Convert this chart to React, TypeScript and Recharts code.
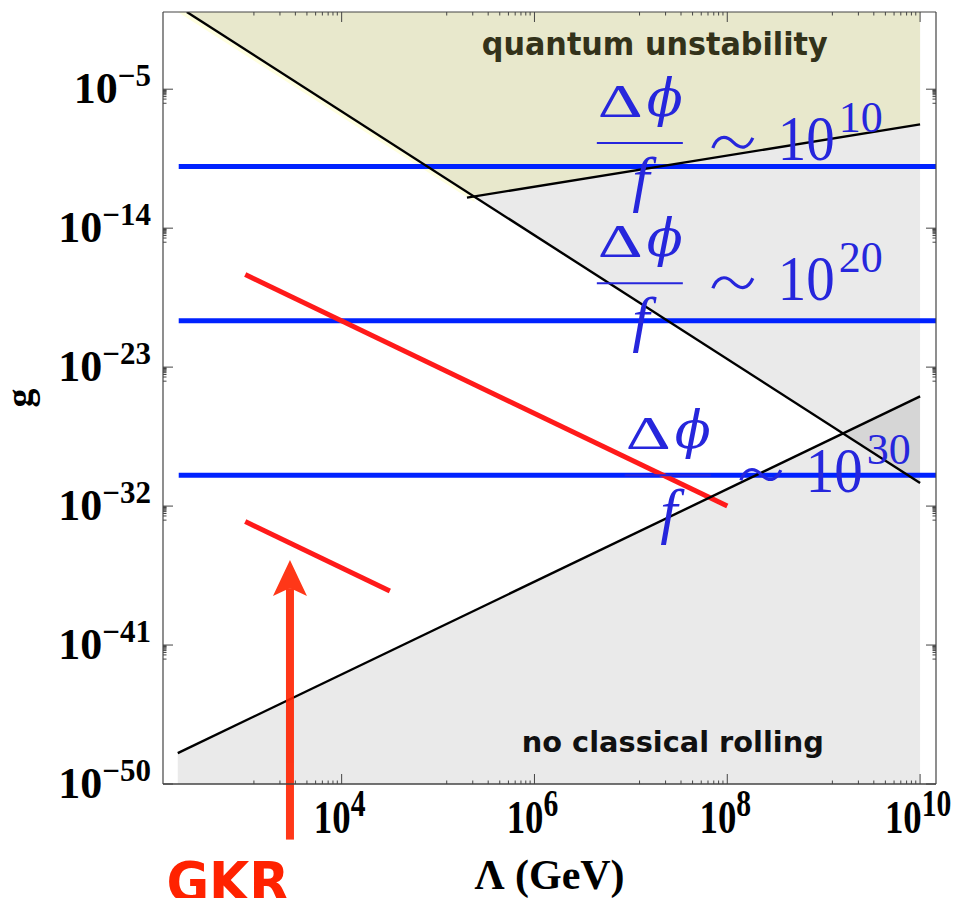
import { Area, ComposedChart, Line, ReferenceDot, ReferenceLine, XAxis, YAxis } from "recharts";

const FRAME = "#444444";
const SERIF = "'Liberation Serif', 'Times New Roman', serif";
const MATH = "'DejaVu Serif', serif";
const ROUND = "'DejaVu Sans', sans-serif";
const MATH_BLUE = "#2626dc";

// both axes run on log10 values: x = log10(Λ / GeV), y = log10(g)
const X_DOMAIN: [number, number] = [2.147, 10.165];
const Y_DOMAIN: [number, number] = [-50, 0];
const X_MAJOR = [4, 6, 8, 10];
const Y_MAJOR = [-5, -14, -23, -32, -41, -50];
// minor ticks: a log-spaced decade packed just below each major tick
const MINOR_STEPS = [-0.91, -0.64, -0.48, -0.36, -0.27, -0.2, -0.14, -0.09, -0.045];

// boundary lines
const QUANTUM_EDGE = [{ x: 2.394, y: 0 }, { x: 10, y: -30.5 }]; // g ∝ Λ^-4
const SLOPE_ONE_EDGE = [{ x: 5.3, y: -12.02 }, { x: 10, y: -7.28 }]; // g ∝ Λ
const ROLLING_EDGE = [{ x: 2.3, y: -48.0 }, { x: 10, y: -24.9 }]; // g ∝ Λ^3
const UNSTABLE_FLOOR = [{ x: 2.394, y: 0 }, { x: 5.378, y: -11.96 }, { x: 10, y: -7.28 }];
const HALO_FLOOR = [{ x: 2.3, y: 0 }, { x: 5.378, y: -12.3 }];

// Δφ/f ~ 10^n contours
const RATIO_POWERS = ["10", "20", "30"];
const RATIO_G = [-10, -20, -30];
const RATIO_SPAN = [2.31, 10.165];
const RATIO_LABEL_X = [6.647, 6.647, 6.937];
const RATIO_LABEL_G = [-8.48, -17.57, -30];

// GKR segments
const GKR_UPPER = [{ x: 3, y: -17 }, { x: 8, y: -32 }];
const GKR_LOWER = [{ x: 3, y: -33 }, { x: 4.5, y: -37.5 }];
const GKR_ARROW = [{ x: 3.464, y: -53.6 }, { x: 3.464, y: -35.5 }];

const withTicks = (majors: number[], lo: number, hi: number) =>
  majors
    .flatMap((m) => [m, ...MINOR_STEPS.map((s) => m + s)])
    .filter((v) => v >= lo && v <= hi)
    .sort((a, b) => a - b);

const X_TICKS = withTicks(X_MAJOR, X_DOMAIN[0], X_DOMAIN[1]);
const Y_TICKS = withTicks(Y_MAJOR, Y_DOMAIN[0], Y_DOMAIN[1]);

const unstableBand = QUANTUM_EDGE.map((p) => ({ x: p.x, band: [p.y, 0] }));
const rollingBand = ROLLING_EDGE.map((p) => ({ x: p.x, band: [Y_DOMAIN[0], p.y] }));
const quantumBand = UNSTABLE_FLOOR.map((p) => ({ x: p.x, band: [p.y, 0] }));
const haloBand = HALO_FLOOR.map((p) => ({ x: p.x, band: [p.y, 0] }));

function BottomTick({ x, y, payload }: any) {
  const v = payload.value as number;
  const major = X_MAJOR.includes(v);
  return (
    <g>
      <line x1={x} x2={x} y1={y} y2={y - (major ? 10 : 3.5)} stroke={FRAME} strokeWidth={1} />
      {major && (
        <g transform={`translate(${x - 2},${y + 49}) scale(0.8,1)`}>
          <text textAnchor="middle" fontFamily={SERIF} fontWeight="bold" fontSize={46} fill="#000">
            10
            <tspan fontSize={37} dy={-17}>
              {v}
            </tspan>
          </text>
        </g>
      )}
    </g>
  );
}

function TopTick({ x, y, payload }: any) {
  const major = X_MAJOR.includes(payload.value);
  return <line x1={x} x2={x} y1={y} y2={y + (major ? 10 : 3.5)} stroke={FRAME} strokeWidth={1} />;
}

function LeftTick({ x, y, payload }: any) {
  const v = payload.value as number;
  const major = Y_MAJOR.includes(v);
  return (
    <g>
      <line x1={x} x2={x + (major ? 10 : 3.5)} y1={y} y2={y} stroke={FRAME} strokeWidth={1} />
      {major && (
        <text x={x - 12} y={y + 14} textAnchor="end" fontFamily={SERIF} fontWeight="bold" fontSize={44} fill="#000">
          10
          <tspan fontSize={31} dy={-17}>
            {`\u2212${-v}`}
          </tspan>
        </text>
      )}
    </g>
  );
}

function RightTick({ x, y, payload }: any) {
  const major = Y_MAJOR.includes(payload.value);
  return <line x1={x} x2={x - (major ? 10 : 3.5)} y1={y} y2={y} stroke={FRAME} strokeWidth={1} />;
}

// Δφ/f ~ 10^n, anchored at the left end of the fraction bar
function RatioLabel({ cx, cy, power }: { cx: number; cy: number; power: string }) {
  return (
    <g transform={`translate(${cx},${cy})`} fill={MATH_BLUE}>
      <text x={1} y={-26} fontFamily={SERIF} fontSize={47} textLength={45} lengthAdjust="spacingAndGlyphs">
        Δ
      </text>
      <text x={50} y={-27} fontFamily={MATH} fontStyle="italic" fontSize={52} textLength={36} lengthAdjust="spacingAndGlyphs">
        ϕ
      </text>
      <line x1={0} x2={86} y1={0} y2={0} stroke={MATH_BLUE} strokeWidth={2} />
      <text x={44} y={57} textAnchor="middle" fontFamily={SERIF} fontStyle="italic" fontSize={62}>
        f
      </text>
      <path d="M116,5 C120,-6 128,-9 136,-1 C144,7 151,6 156,-5" fill="none" stroke={MATH_BLUE} strokeWidth={3.2} />
      <text x={181} y={17} fontFamily={SERIF} fontSize={64} textLength={57} lengthAdjust="spacingAndGlyphs">
        10
      </text>
      <text x={242} y={-11} fontFamily={SERIF} fontSize={44} textLength={44} lengthAdjust="spacingAndGlyphs">
        {power}
      </text>
    </g>
  );
}

function RegionLabel({ cx, cy, text, color, size, span }: any) {
  return (
    <text
      x={cx}
      y={cy}
      textAnchor="middle"
      fontFamily={ROUND}
      fontWeight="bold"
      fontSize={size}
      fill={color}
      textLength={span}
      lengthAdjust="spacingAndGlyphs"
    >
      {text}
    </text>
  );
}

function Arrow({ x1, y1, x2, y2 }: any) {
  // shaft from (x1,y1) up to the head whose tip sits at (x2,y2)
  return (
    <g fill="#ff2200" opacity={0.9}>
      <rect x={x1 - 4} y={y2 + 28} width={8} height={y1 - y2 - 28} />
      <polygon points={`${x2},${y2} ${x2 + 17},${y2 + 36} ${x2},${y2 + 28} ${x2 - 17},${y2 + 36}`} />
    </g>
  );
}

export default function App() {
  return (
    <div style={{ position: "absolute", left: 0, top: 0, background: "#fff" }}>
      <ComposedChart width={958} height={898} margin={{ top: 10, right: 20, bottom: 0, left: 0 }}>
        <XAxis
          dataKey="x"
          type="number"
          domain={X_DOMAIN}
          allowDataOverflow
          ticks={X_TICKS}
          interval={0}
          tickLine={false}
          tickSize={0}
          tickMargin={0}
          tick={BottomTick}
          height={114}
          axisLine={{ stroke: FRAME, strokeWidth: 1.5 }}
          label={{
            content: ({ viewBox }: any) => (
              <text
                x={viewBox.x + viewBox.width / 2}
                y={viewBox.y + 105}
                textAnchor="middle"
                fontFamily={SERIF}
                fontWeight="bold"
                fontSize={42}
                fill="#000"
              >
                Λ (GeV)
              </text>
            ),
          }}
        />
        <XAxis
          xAxisId="top"
          orientation="top"
          dataKey="x"
          type="number"
          domain={X_DOMAIN}
          allowDataOverflow
          ticks={X_TICKS}
          interval={0}
          tickLine={false}
          tickSize={0}
          tickMargin={0}
          tick={TopTick}
          height={2}
          axisLine={{ stroke: FRAME, strokeWidth: 1.2 }}
        />
        <YAxis
          type="number"
          domain={Y_DOMAIN}
          allowDataOverflow
          ticks={Y_TICKS}
          interval={0}
          tickLine={false}
          tickSize={0}
          tickMargin={0}
          tick={LeftTick}
          width={163}
          axisLine={{ stroke: FRAME, strokeWidth: 1.2 }}
          label={{
            content: ({ viewBox }: any) => (
              <text
                transform={`translate(32,${viewBox.y + viewBox.height / 2}) rotate(-90)`}
                textAnchor="middle"
                fontFamily={SERIF}
                fontWeight="bold"
                fontSize={38}
                fill="#000"
              >
                g
              </text>
            ),
          }}
        />
        <YAxis
          yAxisId="right"
          orientation="right"
          type="number"
          domain={Y_DOMAIN}
          allowDataOverflow
          ticks={Y_TICKS}
          interval={0}
          tickLine={false}
          tickSize={0}
          tickMargin={0}
          tick={RightTick}
          width={2}
          axisLine={{ stroke: FRAME, strokeWidth: 1.2 }}
        />

        {/* shaded regions */}
        <Area data={haloBand} dataKey="band" type="linear" stroke="none" fill="#ffffe0" fillOpacity={1} isAnimationActive={false} dot={false} activeDot={false} />
        <Area data={unstableBand} dataKey="band" type="linear" stroke="none" fill="#000" fillOpacity={0.082} isAnimationActive={false} dot={false} activeDot={false} />
        <Area data={rollingBand} dataKey="band" type="linear" stroke="none" fill="#000" fillOpacity={0.082} isAnimationActive={false} dot={false} activeDot={false} />
        <Area data={quantumBand} dataKey="band" type="linear" stroke="none" fill="#e8e8cc" fillOpacity={1} isAnimationActive={false} dot={false} activeDot={false} />

        {RATIO_G.map((g) => (
          <Line
            key={g}
            data={RATIO_SPAN.map((x) => ({ x, y: g }))}
            dataKey="y"
            type="linear"
            stroke="#0022ff"
            strokeWidth={5}
            dot={false}
            activeDot={false}
            isAnimationActive={false}
          />
        ))}
        {[GKR_UPPER, GKR_LOWER].map((seg, i) => (
          <Line key={i} data={seg} dataKey="y" type="linear" stroke="#ff1a1a" strokeWidth={5} dot={false} activeDot={false} isAnimationActive={false} />
        ))}
        {[QUANTUM_EDGE, SLOPE_ONE_EDGE, ROLLING_EDGE].map((seg, i) => (
          <Line key={i} data={seg} dataKey="y" type="linear" stroke="#000" strokeWidth={2.4} dot={false} activeDot={false} isAnimationActive={false} />
        ))}

        {/* break in the left frame line */}
        <ReferenceLine
          segment={[{ x: X_DOMAIN[0], y: -14.57 }, { x: X_DOMAIN[0], y: -18.46 }]}
          stroke="#fff"
          strokeWidth={4}
          ifOverflow="visible"
        />

        {RATIO_POWERS.map((p, i) => (
          <ReferenceDot
            key={p}
            x={RATIO_LABEL_X[i]}
            y={RATIO_LABEL_G[i]}
            r={0}
            ifOverflow="visible"
            shape={(props: any) => <RatioLabel cx={props.cx} cy={props.cy} power={p} />}
          />
        ))}
        <ReferenceDot
          x={7.248}
          y={-2.785}
          r={0}
          ifOverflow="visible"
          shape={(props: any) => (
            <RegionLabel cx={props.cx} cy={props.cy} text="quantum unstability" color="#33321a" size={32} span={346} />
          )}
        />
        <ReferenceDot
          x={7.435}
          y={-47.93}
          r={0}
          ifOverflow="visible"
          shape={(props: any) => (
            <RegionLabel cx={props.cx} cy={props.cy} text="no classical rolling" color="#111111" size={28} span={302} />
          )}
        />
        <ReferenceLine segment={GKR_ARROW} ifOverflow="visible" shape={(props: any) => <Arrow {...props} />} />
        <ReferenceDot
          x={2.82}
          y={-57.6}
          r={0}
          ifOverflow="visible"
          shape={(props: any) => (
            <RegionLabel cx={props.cx} cy={props.cy} text="GKR" color="#ff2200" size={56} span={123} />
          )}
        />
      </ComposedChart>
    </div>
  );
}
